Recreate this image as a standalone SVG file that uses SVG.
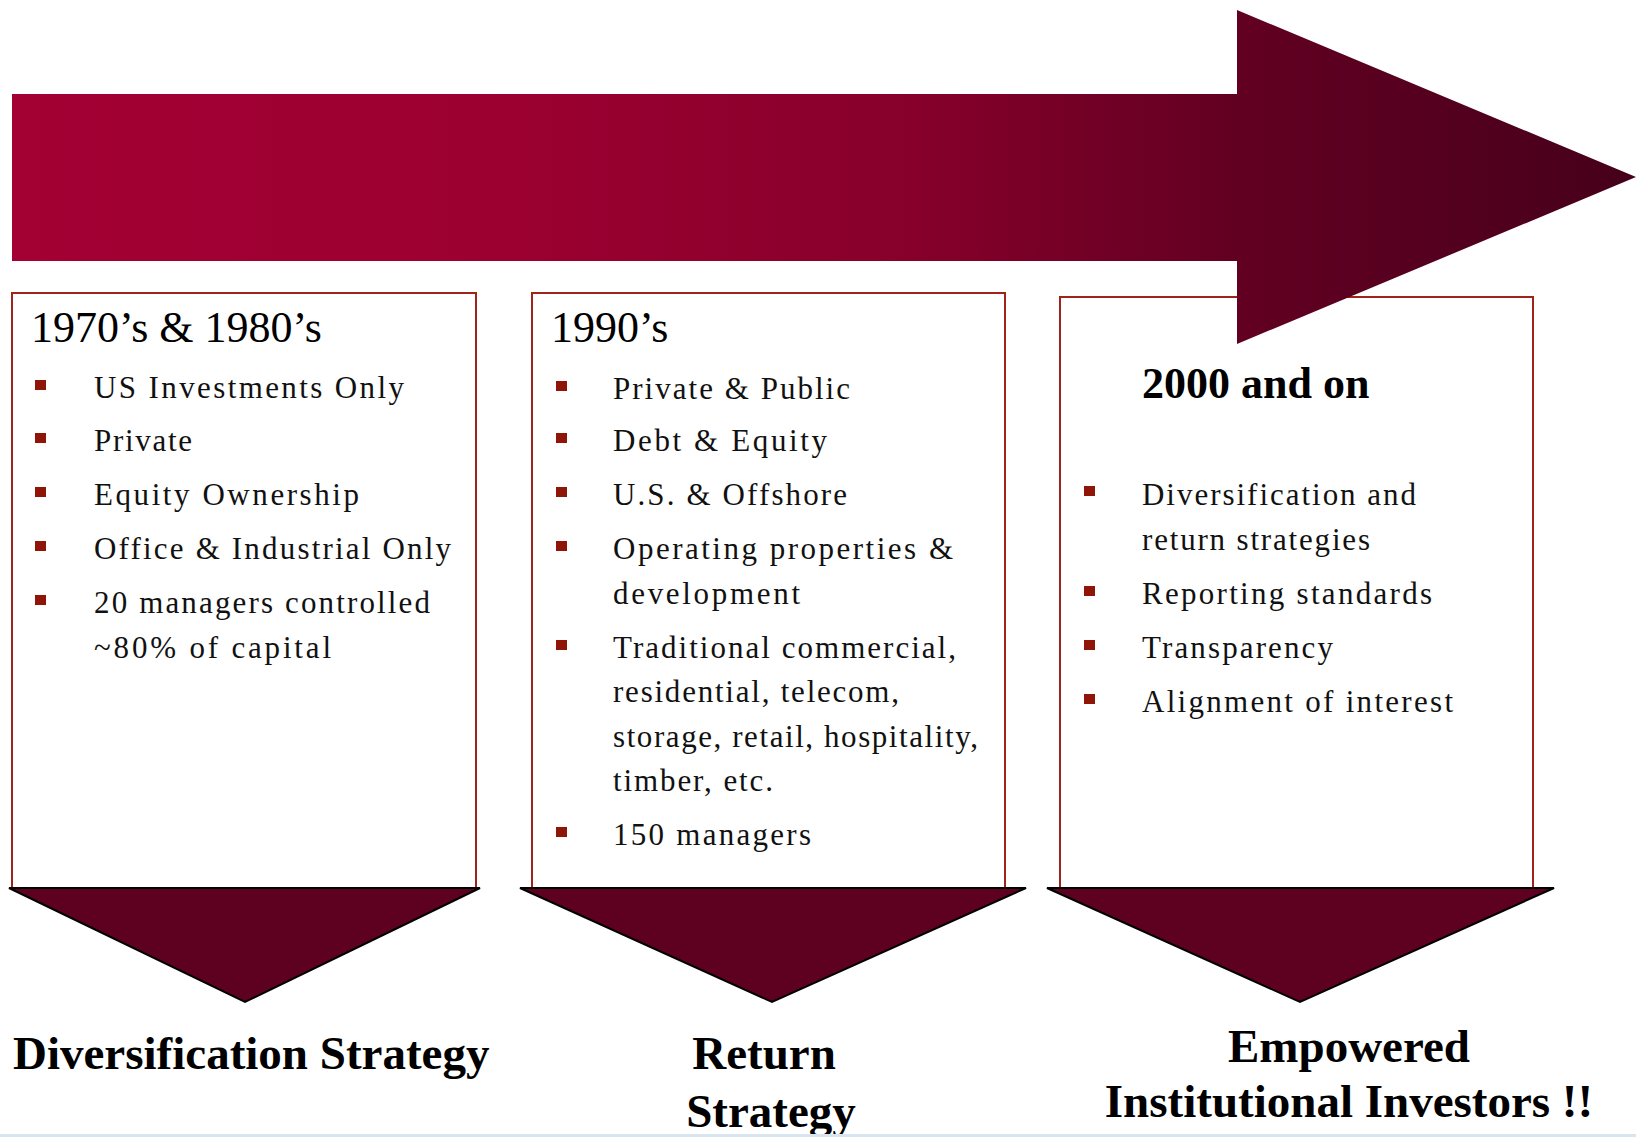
<svg xmlns="http://www.w3.org/2000/svg" width="1636" height="1137" viewBox="0 0 1636 1137">
  <defs>
    <linearGradient id="arrowGrad" gradientUnits="userSpaceOnUse" x1="12" y1="0" x2="1636" y2="0">
      <stop offset="0" stop-color="#A30034"/>
      <stop offset="0.3" stop-color="#9C0031"/>
      <stop offset="0.55" stop-color="#87002B"/>
      <stop offset="0.75" stop-color="#630022"/>
      <stop offset="1" stop-color="#46001A"/>
    </linearGradient>
    <style>
      .box { fill: #FFFFFF; stroke: #9E2318; stroke-width: 2; }
      .tri { fill: #5E0020; stroke: #000000; stroke-width: 2; stroke-linejoin: miter; }
      .bullet { fill: #8E1507; }
      .title { font-family: "Liberation Serif", "Times New Roman", serif; font-size: 44px; fill: #000000; }
      .title-bold { font-family: "Liberation Serif", "Times New Roman", serif; font-size: 44px; font-weight: bold; fill: #000000; }
      .item { font-family: "Liberation Serif", "Times New Roman", serif; font-size: 31px; fill: #111111; }
      .label { font-family: "Liberation Serif", "Times New Roman", serif; font-size: 47px; font-weight: bold; fill: #000000; }
    </style>
  </defs>

  <rect width="1636" height="1137" fill="#FFFFFF"/>

  <!-- period boxes -->
  <g id="box-1970s">
    <rect class="box" x="12" y="293" width="464" height="595"/>
    <text class="title" x="31" y="342">1970’s &amp; 1980’s</text>
    <rect class="bullet" x="35" y="380" width="11" height="10"/>
    <text class="item" x="94" y="398" textLength="310" lengthAdjust="spacing">US Investments Only</text>
    <rect class="bullet" x="35" y="433" width="11" height="10"/>
    <text class="item" x="94" y="451" textLength="98" lengthAdjust="spacing">Private</text>
    <rect class="bullet" x="35" y="487" width="11" height="10"/>
    <text class="item" x="94" y="505" textLength="265" lengthAdjust="spacing">Equity Ownership</text>
    <rect class="bullet" x="35" y="541" width="11" height="10"/>
    <text class="item" x="94" y="559" textLength="357" lengthAdjust="spacing">Office &amp; Industrial Only</text>
    <rect class="bullet" x="35" y="595" width="11" height="10"/>
    <text class="item" x="94" y="613" textLength="336" lengthAdjust="spacing">20 managers controlled</text>
    <text class="item" x="94" y="658" textLength="237" lengthAdjust="spacing">~80% of capital</text>
  </g>

  <g id="box-1990s">
    <rect class="box" x="532" y="293" width="473" height="595"/>
    <text class="title" x="551" y="342">1990’s</text>
    <rect class="bullet" x="556" y="381" width="11" height="10"/>
    <text class="item" x="613" y="399" textLength="237" lengthAdjust="spacing">Private &amp; Public</text>
    <rect class="bullet" x="556" y="433" width="11" height="10"/>
    <text class="item" x="613" y="451" textLength="214" lengthAdjust="spacing">Debt &amp; Equity</text>
    <rect class="bullet" x="556" y="487" width="11" height="10"/>
    <text class="item" x="613" y="505" textLength="234" lengthAdjust="spacing">U.S. &amp; Offshore</text>
    <rect class="bullet" x="556" y="541" width="11" height="10"/>
    <text class="item" x="613" y="559" textLength="340" lengthAdjust="spacing">Operating properties &amp;</text>
    <text class="item" x="613" y="604" textLength="187" lengthAdjust="spacing">development</text>
    <rect class="bullet" x="556" y="640" width="11" height="10"/>
    <text class="item" x="613" y="658" textLength="343" lengthAdjust="spacing">Traditional commercial,</text>
    <text class="item" x="613" y="702" textLength="286" lengthAdjust="spacing">residential, telecom,</text>
    <text class="item" x="613" y="747" textLength="365" lengthAdjust="spacing">storage, retail, hospitality,</text>
    <text class="item" x="613" y="791" textLength="160" lengthAdjust="spacing">timber, etc.</text>
    <rect class="bullet" x="556" y="827" width="11" height="10"/>
    <text class="item" x="613" y="845" textLength="198" lengthAdjust="spacing">150 managers</text>
  </g>

  <g id="box-2000s">
    <rect class="box" x="1060" y="297" width="473" height="591"/>
    <text class="title-bold" x="1142" y="398">2000 and on</text>
    <rect class="bullet" x="1084" y="486" width="11" height="10"/>
    <text class="item" x="1142" y="505" textLength="274" lengthAdjust="spacing">Diversification and</text>
    <text class="item" x="1142" y="550" textLength="228" lengthAdjust="spacing">return strategies</text>
    <rect class="bullet" x="1084" y="586" width="11" height="10"/>
    <text class="item" x="1142" y="604" textLength="290" lengthAdjust="spacing">Reporting standards</text>
    <rect class="bullet" x="1084" y="640" width="11" height="10"/>
    <text class="item" x="1142" y="658" textLength="191" lengthAdjust="spacing">Transparency</text>
    <rect class="bullet" x="1084" y="694" width="11" height="10"/>
    <text class="item" x="1142" y="712" textLength="311" lengthAdjust="spacing">Alignment of interest</text>
  </g>

  <!-- timeline arrow and outcome pointers -->
  <g id="connectors">
    <path id="timeline-arrow" d="M12,94 H1237 V10 L1636,177 L1237,344 V261 H12 Z" fill="url(#arrowGrad)"/>
    <polygon class="tri" points="9,888 480,888 245,1002"/>
    <polygon class="tri" points="520,888 1026,888 772,1002"/>
    <polygon class="tri" points="1047,888 1554,888 1300,1002"/>
  </g>

  <!-- outcome labels -->
  <g id="label-diversification">
    <text class="label" x="13" y="1069">Diversification Strategy</text>
  </g>
  <g id="label-return">
    <text class="label" x="764" y="1069" text-anchor="middle">Return</text>
    <text class="label" x="771" y="1127" text-anchor="middle">Strategy</text>
  </g>
  <g id="label-empowered">
    <text class="label" x="1349" y="1062" text-anchor="middle">Empowered</text>
    <text class="label" x="1349" y="1117" text-anchor="middle">Institutional Investors !!</text>
  </g>

  <rect x="0" y="1134" width="1636" height="3" fill="#D8E5EE"/>
</svg>
